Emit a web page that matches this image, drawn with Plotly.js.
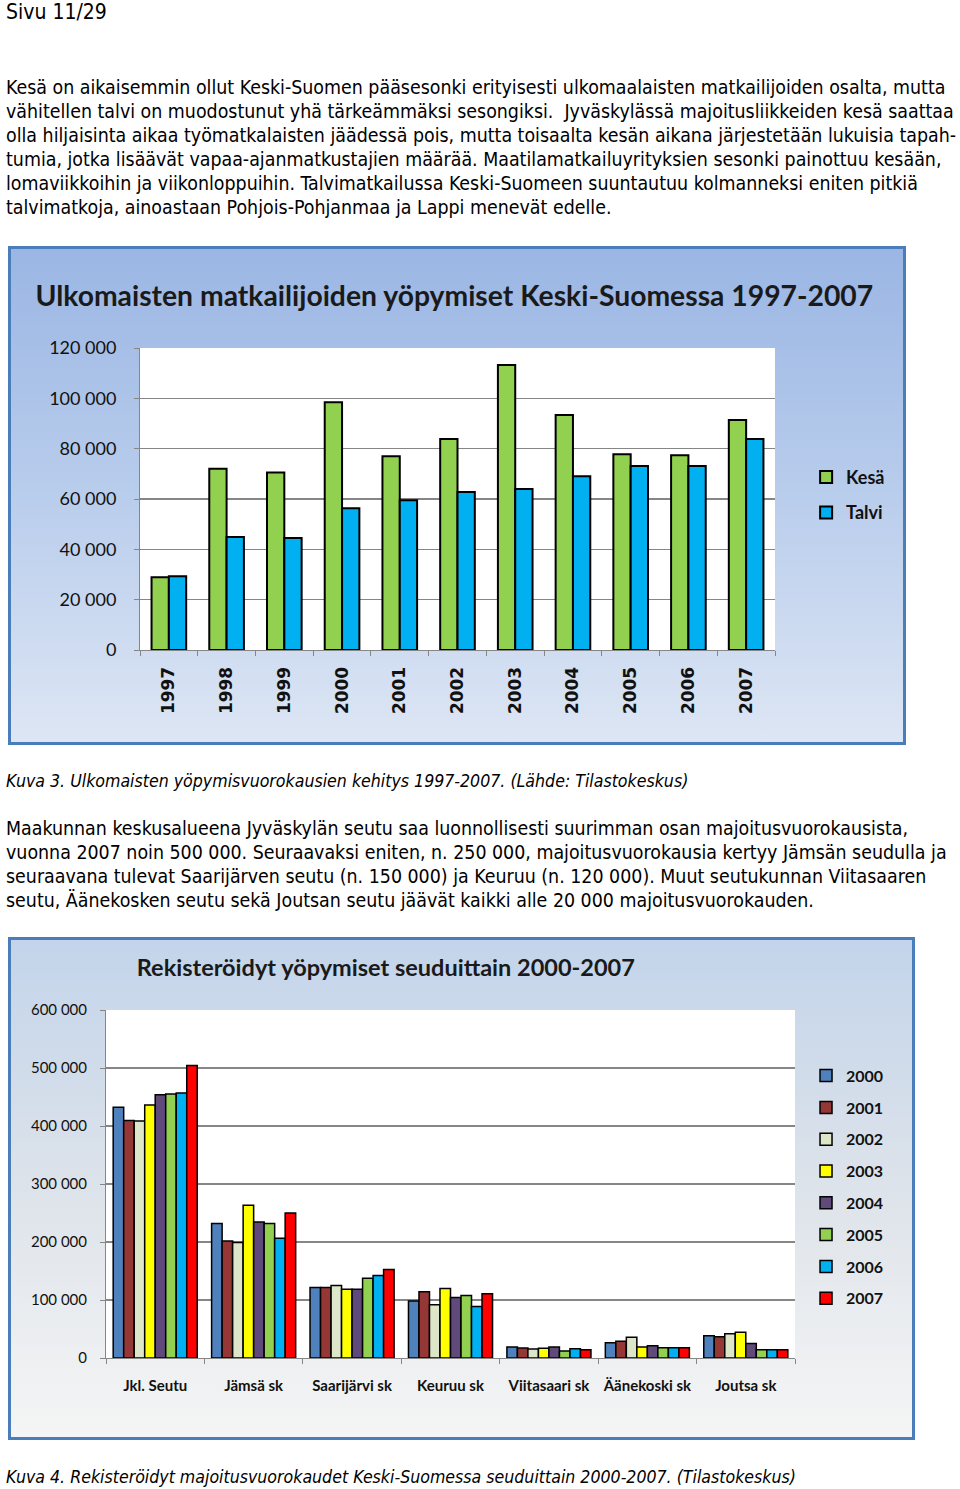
<!DOCTYPE html>
<html><head><meta charset="utf-8">
<script src="https://cdn.plot.ly/plotly-3.0.1.min.js"></script>
<style>
html,body{margin:0;padding:0;background:#fff;width:960px;height:1489px;overflow:hidden;}
.t{position:absolute;left:6px;font-family:"DejaVu Sans Condensed","DejaVu Sans",sans-serif;font-size:19.4px;line-height:24px;color:#000;white-space:nowrap;}
.i{font-style:italic;font-size:17.6px;}
#c1{position:absolute;left:8px;top:246px;width:898px;height:499px;box-sizing:border-box;border:3px solid #4a7ebb;background:linear-gradient(to bottom,#9bb6e4 0%,#b9cdec 50%,#dde6f4 100%);}
#c2{position:absolute;left:8px;top:937px;width:907px;height:503px;box-sizing:border-box;border:3px solid #4a7ebb;background:linear-gradient(to bottom,#c3d4ea 0%,#dde3ea 50%,#f5f5f5 100%);}
</style></head>
<body>
<div class="t" style="top:0px;font-size:21px;">Sivu 11/29</div>
<div class="t" style="top:76px;">Kesä on aikaisemmin ollut Keski-Suomen pääsesonki erityisesti ulkomaalaisten matkailijoiden osalta, mutta<br>vähitellen talvi on muodostunut yhä tärkeämmäksi sesongiksi.&nbsp; Jyväskylässä majoitusliikkeiden kesä saattaa<br>olla hiljaisinta aikaa työmatkalaisten jäädessä pois, mutta toisaalta kesän aikana järjestetään lukuisia tapah-<br>tumia, jotka lisäävät vapaa-ajanmatkustajien määrää. Maatilamatkailuyrityksien sesonki painottuu kesään,<br>lomaviikkoihin ja viikonloppuihin. Talvimatkailussa Keski-Suomeen suuntautuu kolmanneksi eniten pitkiä<br>talvimatkoja, ainoastaan Pohjois-Pohjanmaa ja Lappi menevät edelle.</div>
<div id="c1"></div>
<div class="t i" style="top:769px;">Kuva 3. Ulkomaisten yöpymisvuorokausien kehitys 1997-2007. (Lähde: Tilastokeskus)</div>
<div class="t" style="top:817px;">Maakunnan keskusalueena Jyväskylän seutu saa luonnollisesti suurimman osan majoitusvuorokausista,<br>vuonna 2007 noin 500 000. Seuraavaksi eniten, n. 250 000, majoitusvuorokausia kertyy Jämsän seudulla ja<br>seuraavana tulevat Saarijärven seutu (n. 150 000) ja Keuruu (n. 120 000). Muut seutukunnan Viitasaaren<br>seutu, Äänekosken seutu sekä Joutsan seutu jäävät kaikki alle 20 000 majoitusvuorokauden.</div>
<div id="c2"></div>
<div class="t i" style="top:1465px;">Kuva 4. Rekisteröidyt majoitusvuorokaudet Keski-Suomessa seuduittain 2000-2007. (Tilastokeskus)</div>
<script>
// ---- Chart 1 data ----
const years1 = ['1997','1998','1999','2000','2001','2002','2003','2004','2005','2006','2007'];
const kesa  = [28900, 72000, 70500, 98400, 77000, 83800, 113200, 93400, 77800, 77400, 91400];
const talvi = [29300, 44900, 44500, 56300, 59500, 62800, 64000, 69000, 73100, 73100, 83800];
const seriesNames1 = ['Kesä','Talvi'];
const title1 = 'Ulkomaisten matkailijoiden yöpymiset Keski-Suomessa 1997-2007';

// ---- Chart 2 data ----
const regions = ['Jkl. Seutu','Jämsä sk','Saarijärvi sk','Keuruu sk','Viitasaari sk','Äänekoski sk','Joutsa sk'];
const years2 = ['2000','2001','2002','2003','2004','2005','2006','2007'];
const v2000 = [432500, 231800, 121600,  98300, 19000, 26400, 38500];
const v2001 = [409300, 201700, 121600, 114300, 17200, 28700, 36800];
const v2002 = [408800, 199000, 125100,  91900, 15500, 35600, 41900];
const v2003 = [436000, 263500, 118700, 120000, 16700, 19000, 44200];
const v2004 = [453800, 234600, 118700, 104500, 19000, 21300, 25200];
const v2005 = [455000, 231800, 137700, 107900, 12100, 17800, 14400];
const v2006 = [456700, 206400, 142400,  89000, 16100, 17800, 14400];
const v2007 = [504500, 250200, 152800, 110900, 14400, 17800, 14400];
const title2 = 'Rekisteröidyt yöpymiset seuduittain 2000-2007';

const colors1 = ['#92d050','#00b0f0'];
const colors2 = ['#4f81bd','#953735','#dde6c8','#ffff00','#604a7b','#92d050','#00b0f0','#ff0000'];

const F = 'Lato, "Open Sans", sans-serif';
const cfg = {displayModeBar:false, staticPlot:true};

// Chart 1
const d1 = [kesa, talvi].map((v,i)=>({
  type:'bar', x:years1, y:v, name:seriesNames1[i], legendgroup:'g'+i,
  marker:{color:colors1[i], line:{color:'#000', width:2}}
}));
Plotly.newPlot('c1', d1, {
  width:892, height:493, margin:{l:129,r:128,t:99,b:92},
  paper_bgcolor:'rgba(0,0,0,0)', plot_bgcolor:'#fff',
  separators:', ',
  title:{text:'<b>'+title1+'</b>', font:{family:F, size:28.3, color:'#1a1a1a'}, x:0.497, xanchor:'center', y:0.905, yanchor:'middle', xref:'container', yref:'container'},
  bargap:0.4, bargroupgap:0,
  xaxis:{type:'category', tickson:'boundaries', ticks:'outside', ticklen:5, tickcolor:'#868686', showline:true, linecolor:'#868686', linewidth:1, tickangle:-90, tickfont:{family:'"DejaVu Sans", sans-serif', size:17, color:'#111', weight:'bold'}, ticklabelstandoff:9},
  yaxis:{range:[0,120000], tickvals:[0,20000,40000,60000,80000,100000,120000], tickformat:',.0f', ticks:'outside', ticklen:5, tickcolor:'#868686', showline:true, linecolor:'#868686', linewidth:1, gridcolor:'#868686', gridwidth:1.5, zeroline:false, tickfont:{family:F, size:18, color:'#111'}, ticklabelstandoff:14},
  showlegend:true,
  legend:{x:1.049, xanchor:'left', y:0.633, yanchor:'top', traceorder:'grouped', tracegroupgap:9, font:{family:F, size:18, color:'#111', weight:'bold'}, bgcolor:'rgba(0,0,0,0)', itemwidth:30}
}, cfg);

// Chart 2
const vals2 = [v2000,v2001,v2002,v2003,v2004,v2005,v2006,v2007];
const d2 = vals2.map((v,i)=>({
  type:'bar', x:regions, y:v, name:years2[i], legendgroup:'g'+i,
  marker:{color:colors2[i], line:{color:'#000', width:1.5}}
}));
Plotly.newPlot('c2', d2, {
  width:901, height:497, margin:{l:95,r:117,t:70,b:79},
  paper_bgcolor:'rgba(0,0,0,0)', plot_bgcolor:'#fff',
  separators:', ',
  title:{text:'<b>'+title2+'</b>', font:{family:F, size:23.5, color:'#1a1a1a'}, x:0.416, xanchor:'center', y:0.944, yanchor:'middle', xref:'container', yref:'container'},
  bargap:0.146, bargroupgap:0,
  xaxis:{type:'category', tickson:'boundaries', ticks:'outside', ticklen:5, tickcolor:'#868686', showline:true, linecolor:'#868686', linewidth:1, tickangle:0, tickfont:{family:F, size:15, color:'#111', weight:'bold'}, ticklabelstandoff:14},
  yaxis:{range:[0,600000], tickvals:[0,100000,200000,300000,400000,500000,600000], tickformat:',.0f', ticks:'outside', ticklen:5, tickcolor:'#868686', showline:true, linecolor:'#868686', linewidth:1, gridcolor:'#868686', gridwidth:1.5, zeroline:false, tickfont:{family:F, size:15, color:'#111'}, ticklabelstandoff:10},
  showlegend:true,
  legend:{x:1.016, xanchor:'left', y:0.86, yanchor:'top', traceorder:'grouped', tracegroupgap:8, font:{family:F, size:16, color:'#111', weight:'bold'}, bgcolor:'rgba(0,0,0,0)', itemwidth:30}
}, cfg);
</script>
</body></html>
